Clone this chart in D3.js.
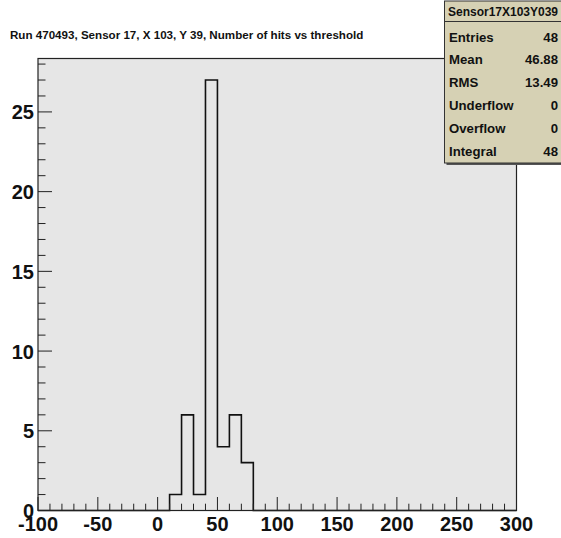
<!DOCTYPE html>
<html>
<head>
<meta charset="utf-8">
<script src="https://cdn.jsdelivr.net/npm/d3@7/dist/d3.min.js"></script>
<style>
  html, body { margin: 0; padding: 0; background: #fff; }
  svg { display: block; }
  text { font-family: "Liberation Sans", Arial, Helvetica, sans-serif; font-weight: bold; }
</style>
</head>
<body>
<svg id="chart" width="561" height="538"></svg>
<script>
// Histogram: number of hits per threshold bin (bin width 10, from -100 to 300)
const binStart = -100;
const binWidth = 10;
const counts = [
  0, 0, 0, 0, 0, 0, 0, 0, 0, 0,   // -100 .. 0
  0, 1, 6, 1, 27, 4, 6, 3, 0, 0,  // 0 .. 100
  0, 0, 0, 0, 0, 0, 0, 0, 0, 0,   // 100 .. 200
  0, 0, 0, 0, 0, 0, 0, 0, 0, 0    // 200 .. 300
];
const xTicks = [-100, -50, 0, 50, 100, 150, 200, 250, 300];
const yTicks = [0, 5, 10, 15, 20, 25];
const titleText = "Run 470493, Sensor 17, X 103, Y 39, Number of hits vs threshold";
const histName = "Sensor17X103Y039";

const svg = d3.select("#chart");
const frame = { left: 38, right: 516.5, top: 58.5, bottom: 510.5 };

const xMax = binStart + binWidth * counts.length;
const yMax = d3.max(counts) * 1.05;

const x = d3.scaleLinear().domain([binStart, xMax]).range([frame.left, frame.right]);
const y = d3.scaleLinear().domain([0, yMax]).range([frame.bottom, frame.top]);

// Plot area background
svg.append("rect")
  .attr("x", frame.left).attr("y", frame.top)
  .attr("width", frame.right - frame.left).attr("height", frame.bottom - frame.top)
  .attr("fill", "#e6e6e6");

// Histogram outline as a step path
const pts = [];
counts.forEach((c, i) => {
  const lo = binStart + i * binWidth;
  pts.push([lo, c], [lo + binWidth, c]);
});
const fullPts = [[binStart, 0], ...pts, [xMax, 0]];
svg.append("path")
  .attr("d", d3.line().x(d => x(d[0])).y(d => y(d[1]))(fullPts))
  .attr("fill", "none")
  .attr("stroke", "#111")
  .attr("stroke-width", 1.6);

// Frame border
svg.append("rect")
  .attr("x", frame.left).attr("y", frame.top)
  .attr("width", frame.right - frame.left).attr("height", frame.bottom - frame.top)
  .attr("fill", "none")
  .attr("stroke", "#222").attr("stroke-width", 1.2);

// X axis: ticks point into the frame
const xMinor = d3.range(binStart, xMax + 1, 10);
const xAxisG = svg.append("g");
xAxisG.selectAll("line").data(xMinor).join("line")
  .attr("x1", d => x(d)).attr("x2", d => x(d))
  .attr("y1", frame.bottom).attr("y2", d => frame.bottom - (xTicks.includes(d) ? 13.5 : 6.8))
  .attr("stroke", "#222").attr("stroke-width", 1);
xAxisG.selectAll("text").data(xTicks).join("text")
  .attr("x", d => x(d)).attr("y", 531)
  .attr("text-anchor", "middle")
  .attr("font-size", 20)
  .attr("fill", "#111")
  .text(d => d);

// Y axis: ticks point into the frame
const yMinor = d3.range(0, Math.floor(yMax) + 1, 1);
const yAxisG = svg.append("g");
yAxisG.selectAll("line").data(yMinor).join("line")
  .attr("x1", frame.left).attr("x2", d => frame.left + (yTicks.includes(d) ? 14 : 7.5))
  .attr("y1", d => y(d)).attr("y2", d => y(d))
  .attr("stroke", "#222").attr("stroke-width", 1);
yAxisG.selectAll("text").data(yTicks).join("text")
  .attr("x", 34).attr("y", d => y(d) + 7.5)
  .attr("text-anchor", "end")
  .attr("font-size", 20)
  .attr("fill", "#111")
  .text(d => d);

// Title
svg.append("text")
  .attr("x", 10).attr("y", 39)
  .attr("font-size", 11.6)
  .attr("fill", "#111")
  .text(titleText);

// Statistics box
const centers = counts.map((c, i) => binStart + (i + 0.5) * binWidth);
const entries = d3.sum(counts);
const mean = d3.sum(counts, (c, i) => c * centers[i]) / entries;
const rms = Math.sqrt(d3.sum(counts, (c, i) => c * (centers[i] - mean) ** 2) / entries);
const statRows = [
  ["Entries", String(entries)],
  ["Mean", mean.toFixed(2)],
  ["RMS", rms.toFixed(2)],
  ["Underflow", "0"],
  ["Overflow", "0"],
  ["Integral", String(entries)]
];

const box = { x: 444.5, y: 1, w: 120, h: 162, header: 20.5 };
// shadow
svg.append("rect")
  .attr("x", box.x + 2).attr("y", box.y + 2)
  .attr("width", box.w).attr("height", box.h)
  .attr("fill", "#555");
svg.append("rect")
  .attr("x", box.x).attr("y", box.y)
  .attr("width", box.w).attr("height", box.h)
  .attr("fill", "#d6d1b4")
  .attr("stroke", "#333").attr("stroke-width", 1);
svg.append("line")
  .attr("x1", box.x).attr("x2", box.x + box.w)
  .attr("y1", box.y + box.header).attr("y2", box.y + box.header)
  .attr("stroke", "#333").attr("stroke-width", 1);
svg.append("text")
  .attr("x", 503).attr("y", 15.5)
  .attr("text-anchor", "middle")
  .attr("font-size", 12)
  .attr("fill", "#111")
  .text(histName);

const rowY = d3.scaleLinear().domain([0, statRows.length - 1]).range([41.5, 156]);
const rows = svg.append("g").selectAll("g").data(statRows).join("g");
rows.append("text")
  .attr("x", 449).attr("y", (d, i) => rowY(i))
  .attr("font-size", 13.2)
  .attr("fill", "#111")
  .text(d => d[0]);
rows.append("text")
  .attr("x", 558).attr("y", (d, i) => rowY(i))
  .attr("text-anchor", "end")
  .attr("font-size", 13.2)
  .attr("fill", "#111")
  .text(d => d[1]);
</script>
</body>
</html>
